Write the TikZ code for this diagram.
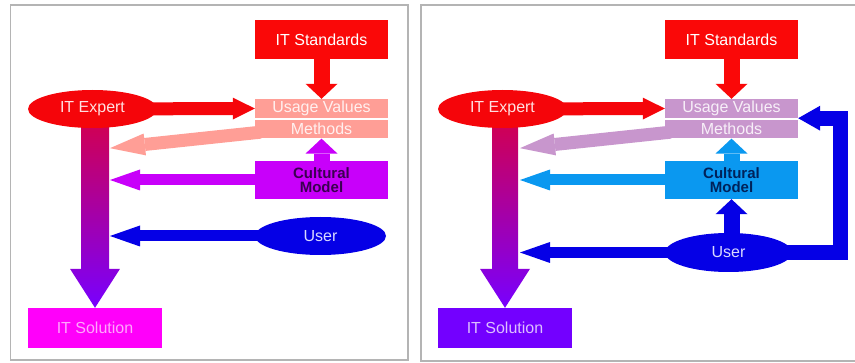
\documentclass[tikz,border=0pt]{standalone}
\usepackage{fontspec}
\setmainfont{Liberation Sans}
\usetikzlibrary{arrows.meta,positioning,shapes.geometric,calc,backgrounds}
\definecolor{stdred}{RGB}{250,8,8}
\definecolor{expertred}{RGB}{245,5,10}
\definecolor{salmon}{RGB}{255,158,150}
\definecolor{lilac}{RGB}{200,150,205}
\definecolor{culpurple}{RGB}{200,0,250}
\definecolor{culblue}{RGB}{10,152,240}
\definecolor{userblue}{RGB}{5,0,230}
\definecolor{solmagenta}{RGB}{255,0,250}
\definecolor{solviolet}{RGB}{115,0,255}
\definecolor{shafttop}{RGB}{215,0,70}
\definecolor{shaftbot}{RGB}{120,0,255}
\definecolor{framegray}{RGB}{180,180,180}
\tikzset{
  % 外框
  panel/.style={draw=framegray, line width=1.3pt},
  % 矩形框
  box/.style={rectangle, inner sep=0pt, minimum width=133pt,
    text=white, font=\fontsize{16}{17}\selectfont},
  % 椭圆
  oval/.style={ellipse, inner sep=0pt, text=white,
    font=\fontsize{16}{17}\selectfont},
  % 文化模型
  culture/.style={box, minimum height=38pt, align=center,
    font=\fontsize{15}{13.5}\selectfont\bfseries},
  % 竖直箭头
  vert/.style={line width=16pt, -{Triangle[width=32pt, length=15pt, line width=0pt]}},
  % 水平箭头
  horiz/.style={line width=11pt, -{Triangle[width=21pt, length=30pt, line width=0pt]}},
  % 专家箭头
  toward/.style={line width=13pt, -{Triangle[width=22pt, length=22pt, line width=0pt]}},
  % 方法箭头
  slant/.style={line width=13pt, -{Triangle[width=22pt, length=35pt, line width=0pt]}},
  % 回路箭头
  loopback/.style={line width=15pt, line join=miter,
    -{Triangle[width=25pt, length=22pt, line width=0pt]}},
}
\begin{document}
\begin{tikzpicture}[x=1pt, y=1pt,
    big/.style={top color=shafttop, bottom color=shaftbot}]
  \useasboundingbox (0,0) rectangle (855,362);

  % 左图
  \node[box, fill=stdred, minimum height=39pt] (stdA) at (321.5,322.5) {IT Standards};
  \node[box, fill=salmon, minimum height=19pt, text=white!85!salmon] (usageA) at (321.5,253.5) {Usage Values};
  \node[box, fill=salmon, minimum height=18.5pt, text=white!85!salmon, below=1.5pt of usageA] (methA) {Methods};
  \node[culture, fill=culpurple, text={rgb,255:red,58;green,0;blue,80}] (culA) at (321.5,182) {Cultural\\Model};
  \node[oval, fill=expertred, minimum width=129pt, minimum height=38pt, text=white!88!red] (expA) at (92.5,253) {IT Expert};
  \node[oval, fill=userblue, minimum width=131pt, minimum height=38pt, text=white!85!blue] (userA) at (320.5,126) {User};
  \node[box, fill=solmagenta, minimum width=134pt, minimum height=40pt, text=white!65!solmagenta] (solA) at (95,34) {IT Solution};
  \coordinate (edgeA) at (110,0);

  % 右图
  \begin{scope}[xshift=410pt]
    \node[box, fill=stdred, minimum height=39pt] (stdB) at (321.5,322.5) {IT Standards};
    \node[box, fill=lilac, minimum height=19pt, text=white!85!lilac] (usageB) at (321.5,253.5) {Usage Values};
    \node[box, fill=lilac, minimum height=18.5pt, text=white!85!lilac, below=1.5pt of usageB] (methB) {Methods};
    \node[culture, fill=culblue, text={rgb,255:red,0;green,34;blue,90}] (culB) at (321.5,182) {Cultural\\Model};
    \node[oval, fill=expertred, minimum width=129pt, minimum height=38pt, text=white!88!red] (expB) at (92.5,253) {IT Expert};
    \node[oval, fill=userblue, minimum width=127pt, minimum height=39pt, text=white!85!blue] (userB) at (318.5,109.5) {User};
    \node[box, fill=solviolet, minimum width=134pt, minimum height=40pt, text=white!75!solviolet] (solB) at (95,34) {IT Solution};
    \coordinate (edgeB) at (110,0);
    \coordinate (loopB) at (430,180);
  \end{scope}

  \begin{scope}[on background layer]
    \draw[panel] (10.5,2) rectangle (408,357);
    \draw[panel] (421,1) rectangle (860,357);

    % 左图箭头
    \shade[big] ($(expA.center -| solA.north)+(-14,0)$) -- ($(solA.north)+(-14,39)$)
      -- ++(-11,0) -- (solA.north) -- ++(25,39) -- ++(-11,0)
      -- ($(expA.center -| solA.north)+(14,0)$) -- cycle;
    \draw[vert, stdred] (stdA) -- (usageA);
    \draw[vert, culpurple] (culA) -- (methA);
    \draw[toward, expertred] (expA.center) -- (usageA.west);
    \draw[slant, salmon] ($(methA.west)+(6,-3)$) -- ($(edgeA |- methA.west)+(0,-19)$);
    \draw[horiz, culpurple] (culA) -- (culA.west -| edgeA);
    \draw[horiz, userblue] (userA.center) -- (userA.center -| edgeA);

    % 右图箭头
    \shade[big] ($(expB.center -| solB.north)+(-13,0)$) -- ($(solB.north)+(-13,39)$)
      -- ++(-12,0) -- (solB.north) -- ++(25,39) -- ++(-12,0)
      -- ($(expB.center -| solB.north)+(13,0)$) -- cycle;
    \draw[vert, stdred] (stdB) -- (usageB);
    \draw[vert, culblue] (culB) -- (methB);
    \draw[toward, expertred] (expB.center) -- (usageB.west);
    \draw[slant, lilac] ($(methB.west)+(6,-3)$) -- ($(edgeB |- methB.west)+(0,-19)$);
    \draw[horiz, culblue] (culB) -- (culB.west -| edgeB);
    \draw[horiz, userblue] (userB.center) -- (userB.center -| edgeB);
    \draw[vert, userblue] (culB.south |- userB.center) -- (culB.south);
    \draw[loopback, userblue] (userB.center) -| (loopB) |- (usageB.south east);
  \end{scope}
\end{tikzpicture}
\end{document}
